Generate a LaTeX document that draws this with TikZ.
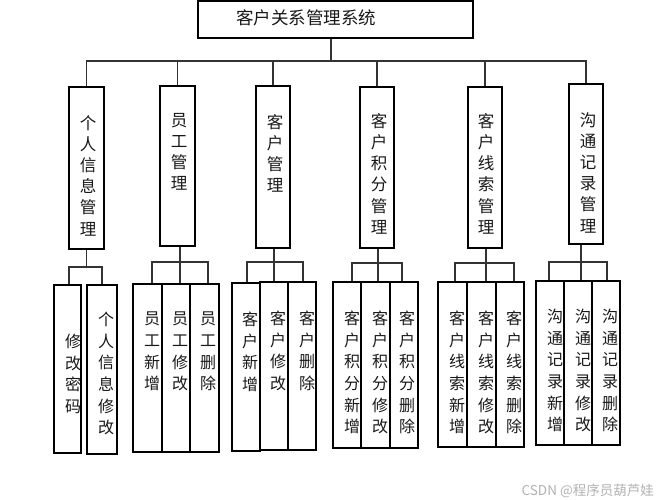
\documentclass[tikz,border=0pt]{standalone}
\usepackage{fontspec}
\newfontfamily\cjk{Noto Sans CJK SC}
\usetikzlibrary{fit}
\begin{document}
\begin{tikzpicture}[x=1pt,y=-1pt,
  box/.style={draw=black, line width=1.2pt, inner sep=0pt},
  vt/.style={align=center, inner sep=0pt, anchor=north, text=black!90, font=\cjk\fontsize{16.5}{21.2}\selectfont},
  vts/.style={align=center, inner sep=0pt, anchor=north, text=black!90, font=\cjk\fontsize{16}{21.6}\selectfont},
  link/.style={draw=black!80, line width=1.2pt}]
\useasboundingbox[fill=white] (0,0) rectangle (656,500);

% top
\node[box, fit={(198,1)(473,38)}] (top) {};
\node[inner sep=0pt, text=black!90, font=\cjk\fontsize{17.5}{20}\selectfont] (tt) at (306,18) {客户关系管理系统};

% level 1 boxes
\node[box, fit={(69,87)(104,249)}] (b1) {};
\node[box, fit={(160,86)(195,246)}] (b2) {};
\node[box, fit={(256,86)(290,248)}] (b3) {};
\node[box, fit={(360,87)(394,248)}] (b4) {};
\node[box, fit={(468,87)(502,248)}] (b5) {};
\node[box, fit={(569,84)(603,244)}] (b6) {};

\node[vt] (t1) at (88,115) {个\\人\\信\\息\\管\\理};
\node[vt] (t2) at (179,113) {员\\工\\管\\理};
\node[vt] (t3) at (275,114) {客\\户\\管\\理};
\node[vt] (t4) at (379,113) {客\\户\\积\\分\\管\\理};
\node[vt] (t5) at (486,113) {客\\户\\线\\索\\管\\理};
\node[vt] (t6) at (588,112) {沟\\通\\记\\录\\管\\理};

% bus level 1
\coordinate (m) at (331,61);
\draw[link] (top.south -| m) -- (m);
\draw[link] (b1.north) -- (b1.north |- m) -- (b6.north |- m) -- (b6.north);
\draw[link] (b2.north) -- (b2.north |- m);
\draw[link] (b3.north) -- (b3.north |- m);
\draw[link] (b4.north) -- (b4.north |- m);
\draw[link] (b5.north) -- (b5.north |- m);

% level 2 boxes
\node[box, fit={(54,285)(81,453)}] (b11) {};
\node[box, fit={(87,285)(117,454)}] (b12) {};

\node[box, fit={(133,284)(162,452)}] (b21) {};
\node[box, fit={(162,284)(190,452)}] (b22) {};
\node[box, fit={(190,284)(219,452)}] (b23) {};

\node[box, fit={(232,283)(260,451)}] (b31) {};
\node[box, fit={(260,282)(288,450)}] (b32) {};
\node[box, fit={(288,282)(316,450)}] (b33) {};

\node[box, fit={(333,282)(361,448)}] (b41) {};
\node[box, fit={(361,282)(390,448)}] (b42) {};
\node[box, fit={(390,282)(418,448)}] (b43) {};

\node[box, fit={(438,282)(467,447)}] (b51) {};
\node[box, fit={(467,282)(496,447)}] (b52) {};
\node[box, fit={(496,282)(524,447)}] (b53) {};

\node[box, fit={(536,281)(564,445)}] (b61) {};
\node[box, fit={(564,281)(592,445)}] (b62) {};
\node[box, fit={(592,281)(620,445)}] (b63) {};

% level 2 texts
\node[vts] (t11) at (73,334) {修\\改\\密\\码};
\node[vts] (t12) at (106,312) {个\\人\\信\\息\\修\\改};

\node[vts] (t21) at (152,312) {员\\工\\新\\增};
\node[vts] (t22) at (180,312) {员\\工\\修\\改};
\node[vts] (t23) at (208,312) {员\\工\\删\\除};

\node[vts] (t31) at (250,312) {客\\户\\新\\增};
\node[vts] (t32) at (278,311) {客\\户\\修\\改};
\node[vts] (t33) at (307,311) {客\\户\\删\\除};

\node[vts] (t41) at (352,311) {客\\户\\积\\分\\新\\增};
\node[vts] (t42) at (380,311) {客\\户\\积\\分\\修\\改};
\node[vts] (t43) at (407,311) {客\\户\\积\\分\\删\\除};

\node[vts] (t51) at (457,311) {客\\户\\线\\索\\新\\增};
\node[vts] (t52) at (486,311) {客\\户\\线\\索\\修\\改};
\node[vts] (t53) at (514,311) {客\\户\\线\\索\\删\\除};

\node[vts] (t61) at (555,309) {沟\\通\\记\\录\\新\\增};
\node[vts] (t62) at (583,309) {沟\\通\\记\\录\\修\\改};
\node[vts] (t63) at (610,309) {沟\\通\\记\\录\\删\\除};

% level 2 connectors
\coordinate (d11) at (69,267); \coordinate (d12) at (102,267);
\draw[link] (b1.south) -- (b1.south |- d11);
\draw[link] (b11.north -| d11) -- (d11) -- (d12) -- (b12.north -| d12);

\coordinate (d21) at (152,262); \coordinate (d22) at (180,262); \coordinate (d23) at (208,262);
\draw[link] (b21.north -| d21) -- (d21) -- (d23) -- (b23.north -| d23);
\draw[link] (b2.south -| d22) -- (b22.north -| d22);

\coordinate (d31) at (247,262); \coordinate (d32) at (274,262); \coordinate (d33) at (303,262);
\draw[link] (b31.north -| d31) -- (d31) -- (d33) -- (b33.north -| d33);
\draw[link] (b3.south -| d32) -- (b32.north -| d32);

\coordinate (d41) at (352,263); \coordinate (d42) at (378,263); \coordinate (d43) at (402,263);
\draw[link] (b41.north -| d41) -- (d41) -- (d43) -- (b43.north -| d43);
\draw[link] (b4.south -| d42) -- (b42.north -| d42);

\coordinate (d51) at (455,263); \coordinate (d52) at (486,263); \coordinate (d53) at (514,263);
\draw[link] (b51.north -| d51) -- (d51) -- (d53) -- (b53.north -| d53);
\draw[link] (b5.south -| d52) -- (b52.north -| d52);

\coordinate (d61) at (549,262); \coordinate (d62) at (581,262); \coordinate (d63) at (607,262);
\draw[link] (b61.north -| d61) -- (d61) -- (d63) -- (b63.north -| d63);
\draw[link] (b6.south -| d62) -- (b62.north -| d62);

% watermark
\node[anchor=base east, inner sep=0pt, text=black!30, font=\cjk\fontsize{13.5}{14}\selectfont] (wm) at (654,495) {CSDN @程序员葫芦娃};
\end{tikzpicture}
\end{document}
